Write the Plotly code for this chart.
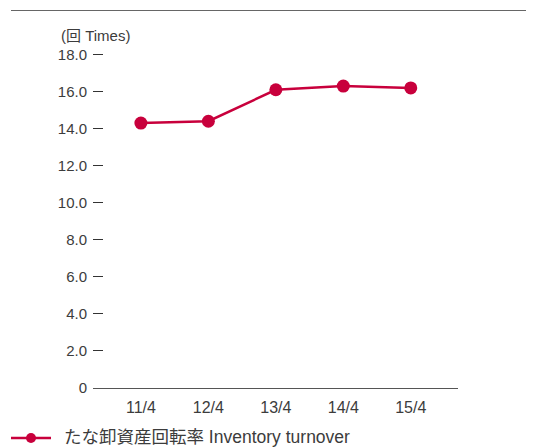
import plotly.graph_objects as go

categories = ["11/4", "12/4", "13/4", "14/4", "15/4"]
turnover = [14.3, 14.4, 16.1, 16.3, 16.2]
tick_vals = [0, 2, 4, 6, 8, 10, 12, 14, 16, 18]
tick_text = ["0", "2.0", "4.0", "6.0", "8.0", "10.0", "12.0", "14.0", "16.0", "18.0"]
series_name = "たな卸資産回転率 Inventory turnover"
unit_label = "(回 Times)"

FONT = "Liberation Sans, Noto Sans CJK JP, sans-serif"
RED = "#c8003c"
TXT = "#3c3c3c"

# the page body has an 8px margin; figure coords = page coords - 8
BODY = 8
W, H = 534 - BODY, 448 - BODY
Y_TOP = 18.3
UNIT = 18.5
PLOT_L, PLOT_R, PLOT_B = 93 - BODY, 458 - BODY, 388 - BODY
PW = PLOT_R - PLOT_L
PH = Y_TOP * UNIT
MT = PLOT_B - PH
MB = H - PLOT_B

def px(x):  # page pixel -> paper
    return (x - BODY - PLOT_L) / PW
def py(y):
    return (PLOT_B - (y - BODY)) / PH

fig = go.Figure()
fig.add_trace(go.Scatter(
    x=list(range(len(categories))), y=turnover, mode="lines+markers",
    name=series_name, showlegend=False,
    line=dict(color=RED, width=2.5),
    marker=dict(color=RED, size=13),
))

leg_y = py(438)
fig.update_layout(
    width=W, height=H,
    margin=dict(l=PLOT_L, r=W - PLOT_R, t=MT, b=MB, pad=0),
    paper_bgcolor="white", plot_bgcolor="white",
    font=dict(family=FONT, size=15, color=TXT),
    showlegend=False,
    xaxis=dict(range=[-0.71, 4.70], tickvals=list(range(len(categories))),
               ticktext=categories, showgrid=False, zeroline=False,
               showline=True, linecolor="#555555", linewidth=1.2,
               ticks="", ticklabelstandoff=5, tickfont=dict(size=16),
               fixedrange=True),
    yaxis=dict(range=[0, Y_TOP], tickvals=tick_vals, ticktext=tick_text,
               showgrid=False, zeroline=False, showline=False,
               ticks="inside", ticklen=10, tickcolor="#333333", tickwidth=1.4,
               ticklabelstandoff=5, tickfont=dict(size=15), fixedrange=True),
    shapes=[
        dict(type="line", xref="paper", yref="paper",
             x0=px(11), x1=px(534), y0=py(11), y1=py(11),
             line=dict(color="#666666", width=1.2)),
        dict(type="line", xref="paper", yref="paper",
             x0=px(11), x1=px(51), y0=leg_y, y1=leg_y,
             line=dict(color=RED, width=2.5)),
        dict(type="circle", xref="paper", yref="paper",
             xsizemode="pixel", ysizemode="pixel",
             xanchor=px(31), yanchor=leg_y, x0=-5, x1=5, y0=-5, y1=5,
             fillcolor=RED, line=dict(color=RED, width=0)),
    ],
    annotations=[
        dict(text=unit_label, xref="paper", yref="paper",
             x=px(59), y=py(36), xanchor="left", yanchor="middle",
             showarrow=False, font=dict(size=15, color=TXT)),
        dict(text=series_name, xref="paper", yref="paper",
             x=px(62), y=py(437), xanchor="left", yanchor="middle",
             showarrow=False, font=dict(size=17.5, color=TXT)),
    ],
)

fig.write_html("out.html")
